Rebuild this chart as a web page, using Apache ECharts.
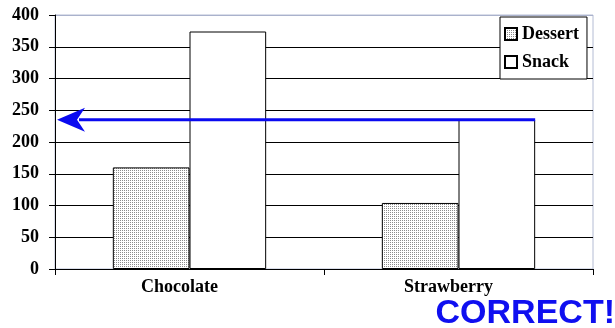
<!DOCTYPE html>
<html>
<head>
<meta charset="utf-8">
<script src="https://cdn.jsdelivr.net/npm/echarts@6/dist/echarts.min.js"></script>
<style>
html,body{margin:0;padding:0;background:#fff;}
#main{width:615px;height:328px;}
</style>
</head>
<body>
<div id="main"></div>
<script>
var categories = ['Chocolate', 'Strawberry'];
var dessertValues = [160, 104];
var snackValues = [374, 235];
var yTicks = [0, 50, 100, 150, 200, 250, 300, 350, 400];
var arrowValue = 235;

// dotted fill like the old excel pattern
var makeDots = function(){
    var c = document.createElement('canvas');
    c.width = 2; c.height = 2;
    var ctx = c.getContext('2d');
    ctx.fillStyle = '#ffffff';
    ctx.fillRect(0, 0, 2, 2);
    ctx.fillStyle = '#8c8c8c';
    ctx.fillRect(0, 0, 1, 1);
    return c;
};
var dots = {image: makeDots(), repeat: 'repeat'};

var dom = document.getElementById('main');
var myChart = echarts.init(dom);
var serif = '"Liberation Serif", "Times New Roman", serif';

var splitColors = yTicks.map(function(v){
    return v === 400 ? '#aab2cc' : '#000000';
});

var option = {
    animation: false,
    grid: {
        left: 55, right: 22, top: 15, bottom: 59,
        show: true, borderColor: '#b4bcd4', borderWidth: 1
    },
    legend: {
        orient: 'vertical',
        left: 500, top: 17,
        width: 89,
        padding: [8, 8, 8, 4],
        itemGap: 10,
        itemWidth: 12, itemHeight: 12,
        borderColor: '#000', borderWidth: 1,
        backgroundColor: '#fff',
        icon: 'rect',
        textStyle: {fontFamily: serif, fontWeight: 'bold', fontSize: 18, color: '#000', padding: [0, 0, 0, 0]},
        data: ['Dessert', 'Snack']
    },
    xAxis: {
        type: 'category',
        data: categories,
        axisLine: {lineStyle: {color: '#000', width: 1}},
        axisTick: {show: true, length: 6, lineStyle: {color: '#000'}},
        axisLabel: {fontFamily: serif, fontWeight: 'bold', fontSize: 18, color: '#000', margin: 9, padding: [0, 20, 0, 0]}
    },
    yAxis: {
        type: 'value',
        min: 0, max: 400, interval: 50,
        axisLine: {show: true, lineStyle: {color: '#000', width: 1}},
        axisTick: {show: true, length: 6, lineStyle: {color: '#000'}},
        axisLabel: {fontFamily: serif, fontWeight: 'bold', fontSize: 18, color: '#000', margin: 16},
        splitLine: {show: true, lineStyle: {color: splitColors, width: 1}}
    },
    series: [{
        name: 'Dessert',
        type: 'bar',
        data: dessertValues,
        barGap: '0%',
        barCategoryGap: '43%',
        itemStyle: {color: dots, borderColor: '#000', borderWidth: 1}
    }, {
        name: 'Snack',
        type: 'bar',
        data: snackValues,
        itemStyle: {color: '#fff', borderColor: '#000', borderWidth: 1}
    }]
};
myChart.setOption(option);

// arrow from the strawberry snack bar back to the axis, plus the caption
var rect = myChart.getModel().getComponent('grid').coordinateSystem.getRect();
var barLayout = myChart.getModel().getSeriesByIndex(1).getData().getItemLayout(1);
var ay = myChart.convertToPixel({yAxisIndex: 0}, arrowValue);
var tipX = rect.x + 2;
var xEnd = barLayout.x + barLayout.width;
myChart.setOption({
    graphic: [{
        type: 'line',
        shape: {x1: tipX + 22, y1: ay, x2: xEnd, y2: ay},
        style: {stroke: '#0a0af0', lineWidth: 3},
        z: 100
    }, {
        type: 'polygon',
        shape: {points: [[tipX, ay], [tipX + 28, ay - 12], [tipX + 20, ay], [tipX + 28, ay + 12]]},
        style: {fill: '#0a0af0'},
        z: 100
    }, {
        type: 'text',
        right: 0, bottom: -3,
        style: {text: 'CORRECT!', fill: '#0f0ff0', font: 'bold 34px "Liberation Sans", Arial, sans-serif'},
        z: 100
    }]
});
</script>
</body>
</html>
